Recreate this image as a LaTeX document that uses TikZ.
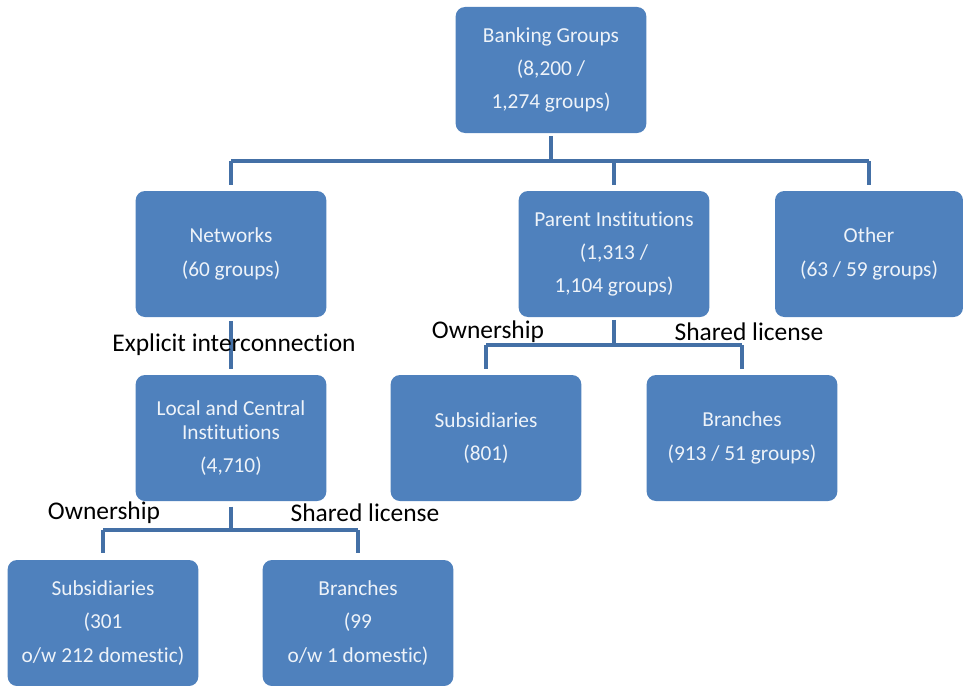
\documentclass[tikz,border=0pt]{standalone}
\usepackage{fontspec}
\setmainfont{Carlito}[Ligatures=NoCommon]
\definecolor{boxblue}{HTML}{4F81BD}
\definecolor{lineblue}{HTML}{4470A6}
\definecolor{boxtext}{HTML}{EEF3F9}
\tikzset{
  box/.style={fill=boxblue, rounded corners=7pt, minimum width=143pt, minimum height=94.5pt,
    align=center, text=boxtext, inner sep=2pt, font={\fontsize{16}{18}\selectfont}},
  lbl/.style={font={\fontsize{19.1}{20}\selectfont}, inner sep=0pt},
  link/.style={draw=lineblue, line width=2.6pt},
}
\begin{document}
\begin{tikzpicture}[x=0.75pt, y=-0.75pt]
\useasboundingbox (0,0) rectangle (963,685);

\node [box] (bank) at (551,70) {Banking Groups\\[7pt] (8,200 /\\[7pt] 1,274 groups)};

\node [box] (net) at (231,254) {Networks\\[7pt] (60 groups)};
\node [box] (parent) at (614,254) {Parent Institutions\\[7pt] (1,313 /\\[7pt] 1,104 groups)};
\node [box, minimum width=141pt] (other) at (869,254) {Other\\[7pt] (63 / 59 groups)};

\node [box] (local) at (231,438) {Local and Central\\ Institutions\\[7pt] (4,710)};
\node [box] (sub-p) at (486,438) {Subsidiaries\\[7pt] (801)};
\node [box] (br-p) at (742,438) {Branches\\[7pt] (913 / 51 groups)};

\node [box] (sub-l) at (103,623) {Subsidiaries\\[7pt] (301\\[7pt] o/w 212 domestic)};
\node [box] (br-l) at (358,623) {Branches\\[7pt] (99\\[7pt] o/w 1 domestic)};

% junctions
\coordinate (j-bank) at (551,161);
\coordinate (j-parent) at (614,345);
\coordinate (j-local) at (231,530);

% top level
\draw [link, shorten <=2pt] (bank.south) -- (j-bank);
\draw [link, line cap=butt] (net.north |- j-bank) -- (other.north |- j-bank);
\foreach \n in {net, parent, other}
  \draw [link, shorten >=4pt] (\n.north |- j-bank) -- (\n.north);

% networks
\draw [link, shorten <=3pt, shorten >=4pt] (net.south) -- (local.north);
\node [lbl] (lbl-expl) at (234,345) {Explicit interconnection};

% parent institutions
\draw [link, shorten <=2pt] (parent.south) -- (j-parent);
\draw [link] (sub-p.north |- j-parent) -- (br-p.north |- j-parent);
\foreach \n in {sub-p, br-p}
  \draw [link, shorten >=4pt] (\n.north |- j-parent) -- (\n.north);
\node [lbl] (lbl-own-p) at (488,332) {Ownership};
\node [lbl] (lbl-sh-p) at (749,332) {Shared license};

% local and central
\draw [link, shorten <=4pt] (local.south) -- (j-local);
\draw [link] (sub-l.north |- j-local) -- (br-l.north |- j-local);
\foreach \n in {sub-l, br-l}
  \draw [link, shorten >=5pt] (\n.north |- j-local) -- (\n.north);
\node [lbl] (lbl-own-l) at (104,513) {Ownership};
\node [lbl] (lbl-sh-l) at (365,513) {Shared license};

\end{tikzpicture}
\end{document}
